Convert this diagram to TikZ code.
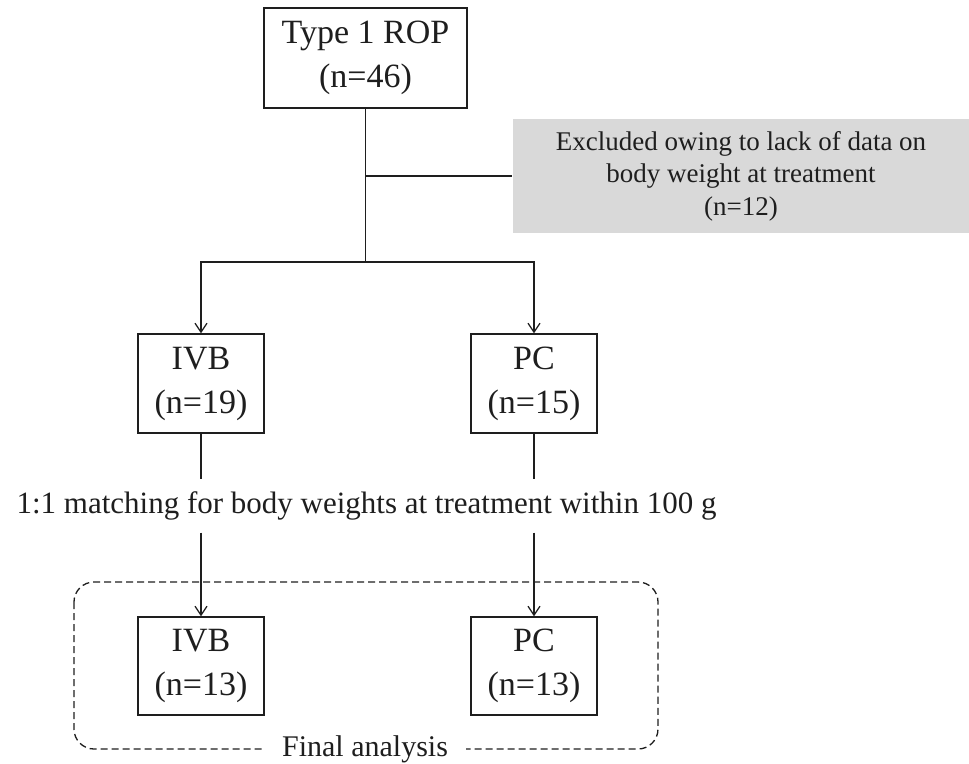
\documentclass[tikz,border=0pt]{standalone}
\usepackage{fontspec}
\setmainfont{Liberation Serif}
\usetikzlibrary{arrows.meta}
\definecolor{boxgray}{RGB}{217,217,217}
\definecolor{ink}{RGB}{30,30,30}
\begin{document}
\begin{tikzpicture}[x=1pt,y=-1pt,
  line width=1.3pt, draw=ink, text=ink,
  stagebox/.style={draw=ink, line width=1.3pt, align=center, inner sep=0pt,
    font=\fontsize{34}{44}\selectfont},
  arr/.style={-{Straight Barb[length=9pt,width=12pt,line width=1.3pt]}},
  plain/.style={draw=ink, line width=1.3pt}
]
\useasboundingbox (0,0) rectangle (969,763);
\node[stagebox, minimum width=203pt, minimum height=100pt] (top) at (365.5,58) {Type 1 ROP\\(n=46)};
\node[fill=boxgray, minimum width=456pt, minimum height=114pt, inner sep=0pt, align=center,
  font=\fontsize{27}{32.5}\selectfont] (excl) at (741,176)
  {Excluded owing to lack of data on\\body weight at treatment\\(n=12)};
\node[stagebox, minimum width=126pt, minimum height=99pt] (ivbA) at (201,383.5) {IVB\\(n=19)};
\node[stagebox, minimum width=126pt, minimum height=99pt] (pcA) at (534,383.5) {PC\\(n=15)};
\node[stagebox, minimum width=126pt, minimum height=98pt] (ivbB) at (201,666) {IVB\\(n=13)};
\node[stagebox, minimum width=126pt, minimum height=98pt] (pcB) at (534,666) {PC\\(n=13)};
\node[inner sep=0pt, minimum height=52pt, font=\fontsize{31}{36}\selectfont] (match) at (366.5,506)
  {1:1 matching for body weights at treatment within 100 g};
\coordinate (split) at (365.5,262);
\draw[plain] (top.south) -- (split);
\draw[plain] (top.south |- excl.west) -- (excl.west);
\draw[plain, arr] (split) -| (ivbA.north);
\draw[plain, arr] (split) -| (pcA.north);
\draw[plain] (ivbA.south) -- (ivbA.south |- match.north);
\draw[plain] (pcA.south) -- (pcA.south |- match.north);
\draw[plain, arr] (ivbB.north |- match.south) -- (ivbB.north);
\draw[plain, arr] (pcB.north |- match.south) -- (pcB.north);
\draw[plain, dash pattern=on 7pt off 4pt, rounded corners=20pt] (74,582) rectangle (658,749);
\node[fill=white, inner xsep=18pt, inner ysep=2pt, anchor=base, font=\fontsize{30}{36}\selectfont] (final) at (365,756) {Final analysis};
\end{tikzpicture}
\end{document}
